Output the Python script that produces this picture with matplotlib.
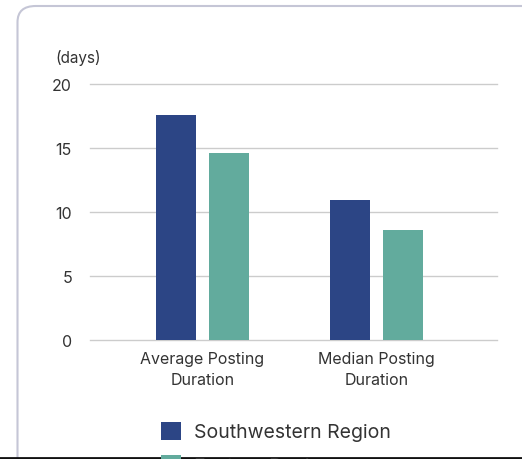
import matplotlib.pyplot as plt
from matplotlib.patches import FancyBboxPatch, Patch
from matplotlib.lines import Line2D
import numpy as np

plt.rcParams['font.family'] = ['Inter', 'DejaVu Sans']

# data
categories = ['Average Posting\nDuration', 'Median Posting\nDuration']
series_names = ['Southwestern Region', 'Eastern Region']
southwestern = [17.6, 10.9]
eastern = [14.6, 8.6]
yticks = [0, 5, 10, 15, 20]

navy = '#2c4585'
teal = '#62ab9d'
txt = '#333333'

W, H = 522, 460
fig = plt.figure(figsize=(W / 100, H / 100), dpi=100)

# card outline (runs off the right and bottom edges)
card = FancyBboxPatch((17.5 / W, -0.2), 1.2, 1.2 - 7 / H,
                      boxstyle='round,pad=0,rounding_size=0.035',
                      transform=fig.transFigure, facecolor='white',
                      edgecolor='#c5c6d6', linewidth=1.5, zorder=-5)
fig.patches.append(card)

ax = fig.add_axes([90 / W, (H - 341) / H, 407 / W, 256 / H])
ax.set_facecolor('none')
ax.set_zorder(2)

x = np.arange(len(categories))
off = 26.7 / 174.3
bw = 40 / 174.3
ax.bar(x - off, southwestern, bw, color=navy, zorder=3)
ax.bar(x + off, eastern, bw, color=teal, zorder=3)

ax.set_xlim(-0.645, 1.69)
ax.set_ylim(0, 20)
ax.set_yticks(yticks)
ax.set_xticks(x)
ax.set_xticklabels(categories, fontsize=11.5, color=txt, linespacing=1.5)
ax.tick_params(axis='y', length=0, pad=13, labelsize=11.5, labelcolor=txt)
ax.tick_params(axis='x', length=0, pad=8)
ax.grid(axis='y', color='#cccccc', linewidth=1, zorder=0)
for gl in ax.get_ygridlines():
    gl.set_clip_on(False)
for s in ax.spines.values():
    s.set_visible(False)

fig.text(55 / W, 1 - 58 / H, '(days)', fontsize=11, color=txt, va='center', ha='left')

handles = [Patch(facecolor=navy), Patch(facecolor=teal)]
fig.legend(handles, series_names, loc='upper left',
           bbox_to_anchor=(143 / W, 1 - 405 / H), frameon=False,
           fontsize=14, handlelength=1.05, handleheight=1.05,
           handletextpad=0.65, labelspacing=0.72, labelcolor=txt)

# dark strip at the very bottom
fig.add_artist(Line2D([0, 1], [1 / H, 1 / H], transform=fig.transFigure,
                      color='#111111', linewidth=2))

fig.savefig('out.png', dpi=100)
